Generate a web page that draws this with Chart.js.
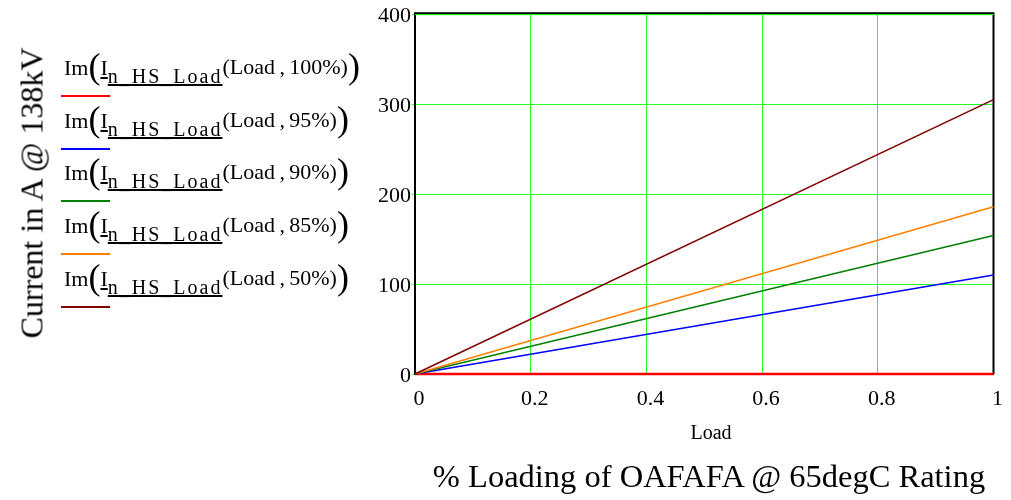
<!DOCTYPE html>
<html>
<head>
<meta charset="utf-8">
<script src="https://cdn.jsdelivr.net/npm/chart.js@4"></script>
<style>
  body { margin: 0; background: #fff; }
  #wrap { position: relative; width: 1011px; height: 500px; font-family: "Liberation Serif", "Times New Roman", serif; color: #000; }
  #chart { position: absolute; left: 0; top: 0; }
  .ytitle { position: absolute; left: 32px; top: 193px; font-size: 32px; white-space: nowrap; transform: translate(-50%, -50%) rotate(-90deg); }
  .xlabel { position: absolute; left: 711px; top: 421px; font-size: 20px; transform: translateX(-50%); white-space: nowrap; }
  .xtitle { position: absolute; left: 709px; top: 458px; font-size: 32.5px; transform: translateX(-50%); white-space: nowrap; }
  .leg { position: absolute; left: 64px; height: 40px; line-height: 40px; white-space: nowrap; font-size: 22px; }
  .leg .par { font-size: 36px; vertical-align: -3px; }
  .leg .u { text-decoration: underline; }
  .leg .sub { font-size: 20px; letter-spacing: 2px; vertical-align: -8px; text-decoration: underline; }
  .leg .arg { font-size: 22px; vertical-align: 1px; }
  .legline { position: absolute; left: 61px; width: 49px; height: 2px; }
</style>
</head>
<body>
<div id="wrap">
  <canvas id="chart" width="1011" height="500"></canvas>
  <div class="ytitle">Current in A @ 138kV</div>
  <div class="xlabel">Load</div>
  <div class="xtitle">% Loading of OAFAFA @ 65degC Rating</div>
  <div id="legend"></div>
</div>
<script>
const loads = [0, 1];
const rating100 = [0, 0];
const rating95 = [0, 110];
const rating90 = [0, 154];
const rating85 = [0, 186];
const rating50 = [0, 305];
const legendArgs = ["100%", "95%", "90%", "85%", "50%"];
const xTicks = [0, 0.2, 0.4, 0.6, 0.8, 1];
const yTicks = [0, 100, 200, 300, 400];

const series = [
  { arg: legendArgs[0], values: rating100, color: "#ff0000" },
  { arg: legendArgs[1], values: rating95, color: "#0000ff" },
  { arg: legendArgs[2], values: rating90, color: "#008000" },
  { arg: legendArgs[3], values: rating85, color: "#ff8000" },
  { arg: legendArgs[4], values: rating50, color: "#800000" },
];

// legend drawn as html, mathcad style
const legend = document.getElementById("legend");
const legendLineY = [96, 149, 201, 254, 307];
series.forEach((s, i) => {
  const y = legendLineY[i];
  const entry = document.createElement("div");
  entry.className = "leg";
  entry.style.top = (y - 50) + "px";
  entry.innerHTML =
    'Im<span class="par">(</span><span class="u">I</span><span class="sub">n_HS_Load</span>' +
    '<span class="arg">(Load&thinsp;,&thinsp;' + s.arg + ')</span><span class="par">)</span>';
  legend.appendChild(entry);
  const line = document.createElement("div");
  line.className = "legline";
  line.style.top = (y - 1) + "px";
  line.style.background = s.color;
  legend.appendChild(line);
});

const frame = {
  id: "frame",
  beforeDatasetsDraw(chart) {
    const { ctx, chartArea } = chart;
    ctx.save();
    ctx.strokeStyle = "#000";
    ctx.lineWidth = 2;
    ctx.beginPath();
    ctx.moveTo(chartArea.left, chartArea.bottom);
    ctx.lineTo(chartArea.left, chartArea.top - 1);
    ctx.lineTo(chartArea.right, chartArea.top - 1);
    ctx.lineTo(chartArea.right, chartArea.bottom);
    ctx.stroke();
    ctx.strokeStyle = "#22ff22";
    ctx.lineWidth = 1;
    ctx.beginPath();
    ctx.moveTo(chartArea.left, chartArea.top + 0.5);
    ctx.lineTo(chartArea.right, chartArea.top + 0.5);
    ctx.stroke();
    ctx.restore();
  },
};

// draw in reverse so the 100% (red) line sits on top
const datasets = series.slice().reverse().map((s) => ({
  label: s.arg,
  data: loads.map((x, i) => ({ x: x, y: s.values[i] })),
  borderColor: s.color,
  borderWidth: s.arg === "100%" ? 2.5 : 1.5,
  pointRadius: 0,
  showLine: true,
  fill: false,
  tension: 0,
  clip: false,
}));

new Chart(document.getElementById("chart"), {
  type: "scatter",
  data: { datasets },
  options: {
    responsive: false,
    animation: false,
    layout: { padding: { top: 14, right: 11, left: 0, bottom: 0 } },
    plugins: { legend: { display: false }, tooltip: { enabled: false } },
    scales: {
      x: {
        type: "linear",
        min: 0,
        max: 1,
        afterFit: (scale) => { scale.height = 126; },
        afterBuildTicks: (scale) => { scale.ticks = xTicks.map((v) => ({ value: v })); },
        border: { display: true, color: "#000", width: 2 },
        grid: { color: "#22ff22", lineWidth: 1, drawTicks: false },
        ticks: {
          color: "#000",
          padding: 12,
          labelOffset: 4,
          maxRotation: 0,
          font: { family: "Liberation Serif", size: 22 },
          callback: (v) => String(v),
        },
      },
      y: {
        type: "linear",
        min: 0,
        max: 400,
        afterFit: (scale) => { scale.width = 415; },
        afterBuildTicks: (scale) => { scale.ticks = yTicks.map((v) => ({ value: v })); },
        border: { display: true, color: "#000", width: 2 },
        grid: { color: "#22ff22", lineWidth: 1, tickLength: 3 },
        ticks: {
          color: "#000",
          padding: 1,
          labelOffset: 2,
          font: { family: "Liberation Serif", size: 22 },
          callback: (v) => String(v),
        },
      },
    },
  },
  plugins: [frame],
});
</script>
</body>
</html>
